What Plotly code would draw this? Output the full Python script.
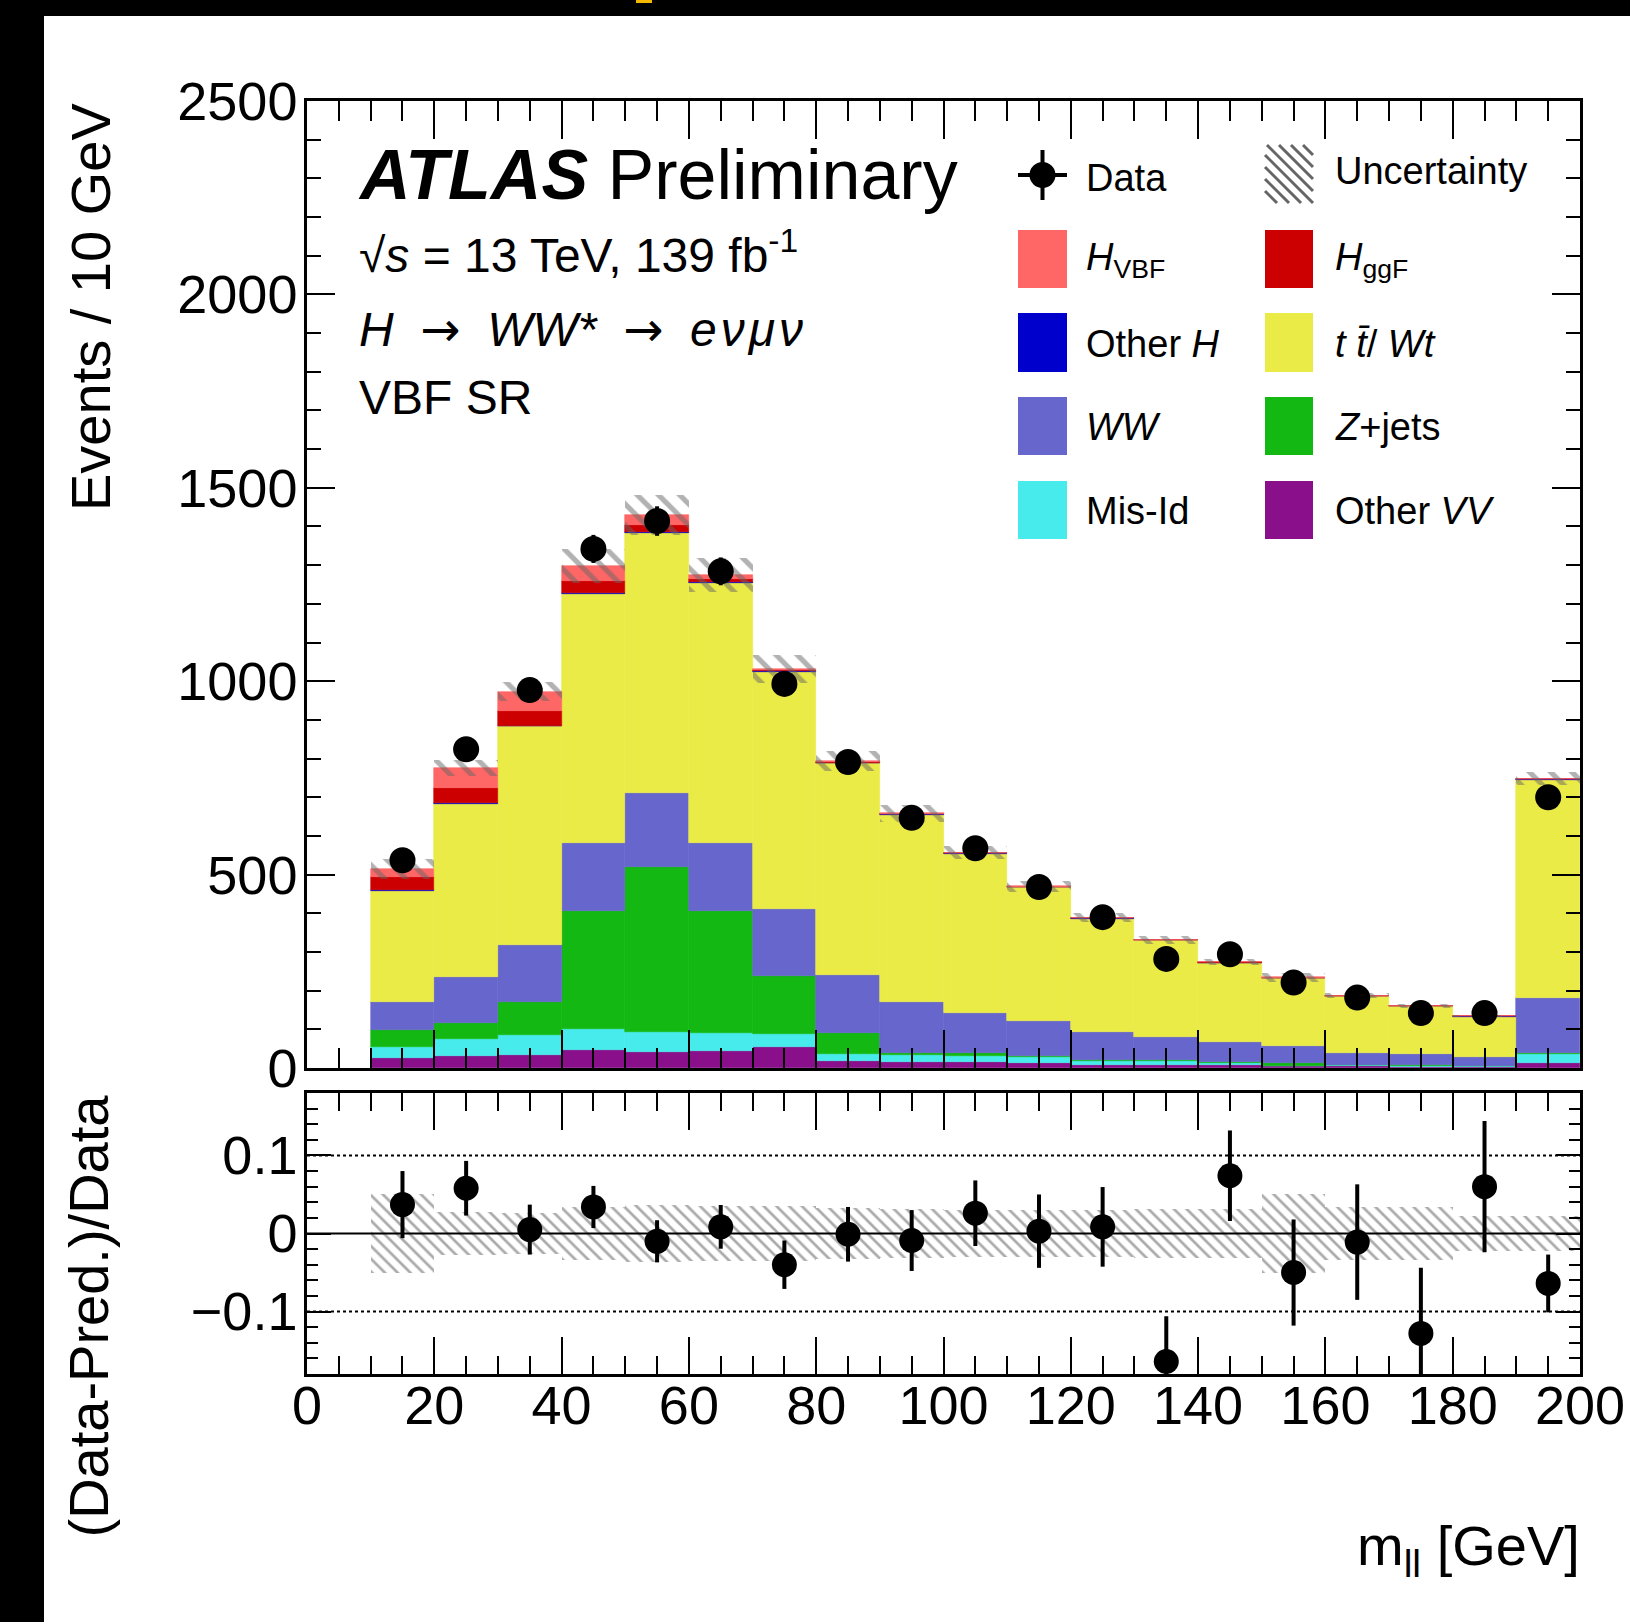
import numpy as np
import plotly.graph_objects as go

# ---------------- data ----------------
bin_centers = [15, 25, 35, 45, 55, 65, 75, 85, 95, 105, 115, 125, 135, 145, 155, 165, 175, 185, 195]

other_vv = [25, 31, 33, 47, 41, 45, 54, 18, 16, 15, 14, 9, 9, 8, 4, 4, 3, 2, 14]
mis_id   = [29, 44, 52, 54, 51, 45, 33, 18, 18, 16, 14, 10, 10, 6, 2, 3, 3, 2, 22]
z_jets   = [44, 41, 85, 306, 427, 315, 150, 54, 4, 7, 3, 1, 1, 1, 6, 1, 1, 1, 2]
ww       = [72, 119, 147, 176, 192, 178, 174, 151, 132, 104, 91, 74, 59, 51, 44, 32, 28, 24, 144]
top_wt   = [287, 448, 566, 643, 673, 671, 614, 547, 485, 412, 345, 292, 251, 206, 176, 145, 125, 104, 563]
other_h  = [2, 2, 2, 2, 3, 2, 1, 1, 1, 1, 1, 1, 0.5, 0.5, 0.5, 0.5, 0.3, 0.3, 1]
h_ggf    = [36, 39, 39, 31, 18, 9, 3, 2, 1, 1, 1, 1, 0.5, 0.5, 0.5, 0.5, 0.3, 0.3, 1]
h_vbf    = [20, 52, 49, 38, 24, 9, 3, 2, 1, 1, 1, 1, 1, 1, 1, 0.5, 0.4, 0.4, 1]

data_counts = [537, 824, 977, 1342, 1414, 1284, 993, 791, 647, 568, 468, 390, 282, 294, 221, 182, 142, 142, 700]

ratio_vals = [0.037, 0.058, 0.005, 0.034, -0.010, 0.0085, -0.040, -0.001, -0.009, 0.026,
              0.003, 0.0085, -0.164, 0.074, -0.050, -0.011, -0.128, 0.060, -0.064]
ratio_errs = [0.043, 0.035, 0.032, 0.027, 0.027, 0.028, 0.031, 0.035, 0.039, 0.042,
              0.047, 0.051, 0.058, 0.058, 0.068, 0.074, 0.084, 0.084, 0.037]
rel_unc = [0.051, 0.027, 0.026, 0.034, 0.036, 0.035, 0.035, 0.033, 0.032, 0.030,
           0.030, 0.030, 0.031, 0.031, 0.051, 0.034, 0.034, 0.022, 0.022]

# stack order bottom -> top
components = [
    ("Other VV", other_vv, "#8A0F8A"),
    ("Mis-Id", mis_id, "#47EBEB"),
    ("Z+jets", z_jets, "#13B813"),
    ("WW", ww, "#6666CC"),
    ("ttbar/Wt", top_wt, "#EBEB47"),
    ("Other H", other_h, "#0000CC"),
    ("H ggF", h_ggf, "#CC0000"),
    ("H VBF", h_vbf, "#FF6666"),
]

# ---------------- geometry ----------------
W, H = 1630, 1622
L, R = 307, 1580
T, B = 101, 1374
MAIN_BOT = 1068
RATIO_TOP = 1093
FONT = "Liberation Sans"
HATCH = "#666666"


def px(x):
    return (x - L) / (R - L)


def py(y):
    return (B - y) / (B - T)


fig = go.Figure()

# stacked histogram
base = np.zeros(len(bin_centers))
for name, vals, col in components:
    v = np.array(vals, dtype=float)
    fig.add_trace(go.Bar(x=bin_centers, y=v, base=base.copy(), width=10,
                         marker=dict(color=col, line=dict(color=col, width=0.6)),
                         xaxis="x", yaxis="y", name=name))
    base = base + v
total = base
unc_abs = total * np.array(rel_unc)

# uncertainty hatch (main)
fig.add_trace(go.Bar(x=bin_centers, y=2 * unc_abs, base=total - unc_abs, width=10,
                     marker=dict(color="rgba(0,0,0,0)", line=dict(width=0),
                                 pattern=dict(shape="\\", fgcolor=HATCH, bgcolor="rgba(0,0,0,0)",
                                              size=15, solidity=0.35)),
                     xaxis="x", yaxis="y", name="Uncertainty"))

# data
fig.add_trace(go.Scatter(x=bin_centers, y=data_counts, mode="markers",
                         marker=dict(color="black", size=26),
                         error_y=dict(type="data", array=np.array(ratio_errs) * np.array(data_counts),
                                      color="black", thickness=4, width=0),
                         xaxis="x", yaxis="y", name="Data", cliponaxis=False))

# ratio uncertainty band
fig.add_trace(go.Bar(x=bin_centers, y=2 * np.array(rel_unc), base=-np.array(rel_unc), width=10,
                     marker=dict(color="rgba(0,0,0,0)", line=dict(width=0),
                                 pattern=dict(shape="\\", fgcolor="#555555", bgcolor="rgba(0,0,0,0)",
                                              size=9, solidity=0.3)),
                     xaxis="x2", yaxis="y2", name="Uncertainty ratio"))

# reference lines in ratio panel
fig.add_trace(go.Scatter(x=[0, 200], y=[0, 0], mode="lines", line=dict(color="black", width=2),
                         xaxis="x2", yaxis="y2", hoverinfo="skip"))
for lv in (0.1, -0.1):
    fig.add_trace(go.Scatter(x=[0, 200], y=[lv, lv], mode="lines",
                             line=dict(color="black", width=2, dash="dot"),
                             xaxis="x2", yaxis="y2", hoverinfo="skip"))

fig.add_trace(go.Scatter(x=bin_centers, y=ratio_vals, mode="markers",
                         marker=dict(color="black", size=25),
                         error_y=dict(type="data", array=ratio_errs, color="black", thickness=4, width=0),
                         xaxis="x2", yaxis="y2", name="Ratio"))

axis_common = dict(showline=True, linecolor="black", linewidth=2.5, mirror="allticks",
                   ticks="inside", tickcolor="black", tickwidth=2, showgrid=False, zeroline=False,
                   automargin=False,
                   tickfont=dict(family=FONT, size=54, color="black"))

fig.update_layout(
    width=W, height=H,
    margin=dict(l=L, r=W - R, t=T, b=H - B, pad=0, autoexpand=False),
    paper_bgcolor="white", plot_bgcolor="white",
    showlegend=False, barmode="overlay", bargap=0,
    font=dict(family=FONT, color="black"),
    xaxis=dict(domain=[0, 1], anchor="y", range=[0, 200], dtick=20, tick0=0, ticklen=38,
               showticklabels=False,
               minor=dict(dtick=5, tick0=0, ticklen=20, ticks="inside", tickcolor="black", tickwidth=2),
               **axis_common),
    yaxis=dict(domain=[py(MAIN_BOT), 1], anchor="x", range=[0, 2500], dtick=500, tick0=0, ticklen=28,
               ticklabelstandoff=-4,
               minor=dict(dtick=100, tick0=0, ticklen=14, ticks="inside", tickcolor="black", tickwidth=2),
               **axis_common),
    xaxis2=dict(domain=[0, 1], anchor="y2", range=[0, 200], dtick=20, tick0=0, ticklen=37,
                matches="x", ticklabelstandoff=-18,
                minor=dict(dtick=5, tick0=0, ticklen=18, ticks="inside", tickcolor="black", tickwidth=2),
                **axis_common),
    yaxis2=dict(domain=[0, py(RATIO_TOP)], anchor="x2", range=[-0.18, 0.18], dtick=0.1, tick0=0,
                ticklen=24, ticklabelstandoff=-4,
                minor=dict(dtick=0.02, tick0=0, ticklen=11, ticks="inside", tickcolor="black", tickwidth=2),
                **axis_common),
)

ann = []


def text(x, y, s, size, xanchor="left", yanchor="middle", angle=0):
    ann.append(dict(x=px(x), y=py(y), xref="paper", yref="paper", text=s, showarrow=False,
                    xanchor=xanchor, yanchor=yanchor, textangle=angle,
                    font=dict(family=FONT, size=size, color="black")))


ARROW = '<span style="font-family:DejaVu Sans">→</span>'
HS = "\u200a"
SP = "\u00a0 "
text(356, 175, "<b><i>ATLAS</i></b> Preliminary", 70)
text(357, 252, "√<i>s</i> = 13 TeV, 139 fb<sup>-1</sup>", 48)
text(357, 329, "<i>H</i>" + SP + ARROW + SP + "<i>WW*</i>" + SP + ARROW + SP
     + "<i>e" + HS + "ν" + HS + "μ" + HS + "ν</i>", 48)
text(357, 398, "VBF SR", 48)

text(90, 101, "Events / 10 GeV", 56, xanchor="center", yanchor="top", angle=-90)
text(88, 1093, "(Data-Pred.)/Data", 56, xanchor="center", yanchor="top", angle=-90)
text(1582, 1549, "m<sub>ll</sub> [GeV]", 56, xanchor="right", yanchor="middle")

# ---- legend ----
shapes = []
LEG_SIZE = 38
col1_box = (1018, 1067)
col2_box = (1265, 1313)
rows = [(230, 288), (313, 372), (397, 455), (481, 539)]
col1_items = [("<i>H</i><sub>VBF</sub>", "#FF6666"), ("Other <i>H</i>", "#0000CC"),
              ("<i>WW</i>", "#6666CC"), ("Mis-Id", "#47EBEB")]
col2_items = [("<i>H</i><sub>ggF</sub>", "#CC0000"), ("<i>t</i> <i>t̄</i>/ <i>Wt</i>", "#EBEB47"),
              ("<i>Z</i>+jets", "#13B813"), ("Other <i>VV</i>", "#8A0F8A")]
for (y0, y1), (lab1, c1), (lab2, c2) in zip(rows, col1_items, col2_items):
    for (bx0, bx1), lab, c, tx in ((col1_box, lab1, c1, 1084), (col2_box, lab2, c2, 1333)):
        shapes.append(dict(type="rect", xref="paper", yref="paper", x0=px(bx0), x1=px(bx1),
                           y0=py(y1), y1=py(y0), fillcolor=c, line=dict(width=0)))
        text(tx, (y0 + y1) / 2 + 1, lab, LEG_SIZE)

# data legend symbol
shapes.append(dict(type="line", xref="paper", yref="paper", x0=px(1018), x1=px(1067), y0=py(175), y1=py(175),
                   line=dict(color="black", width=4)))
shapes.append(dict(type="line", xref="paper", yref="paper", x0=px(1042.5), x1=px(1042.5), y0=py(150), y1=py(200),
                   line=dict(color="black", width=4)))
shapes.append(dict(type="circle", xref="paper", yref="paper", x0=px(1029.5), x1=px(1055.5), y0=py(188), y1=py(162),
                   fillcolor="black", line=dict(width=0)))
text(1084, 178, "Data", LEG_SIZE)

# uncertainty legend symbol (hatched box)
hx0, hx1, hy0, hy1 = 1265, 1313, 145, 203
c = hx0 - hy1
while c <= hx1 - hy0:
    xa = max(hx0, hy0 + c)
    xb = min(hx1, hy1 + c)
    if xb > xa:
        shapes.append(dict(type="line", xref="paper", yref="paper", x0=px(xa), x1=px(xb),
                           y0=py(xa - c), y1=py(xb - c), line=dict(color=HATCH, width=3)))
    c += 12
text(1333, 171, "Uncertainty", LEG_SIZE)

# black frame strips of the screenshot
shapes.append(dict(type="rect", xref="paper", yref="paper", x0=px(-10), x1=px(44), y0=py(H + 10), y1=py(-10),
                   fillcolor="black", line=dict(width=0)))
shapes.append(dict(type="rect", xref="paper", yref="paper", x0=px(-10), x1=px(W + 10), y0=py(16), y1=py(-10),
                   fillcolor="black", line=dict(width=0)))
shapes.append(dict(type="rect", xref="paper", yref="paper", x0=px(636), x1=px(652), y0=py(3), y1=py(-1),
                   fillcolor="#F5B800", line=dict(width=0)))

fig.update_layout(annotations=ann, shapes=shapes)
fig.write_html("out.html")
